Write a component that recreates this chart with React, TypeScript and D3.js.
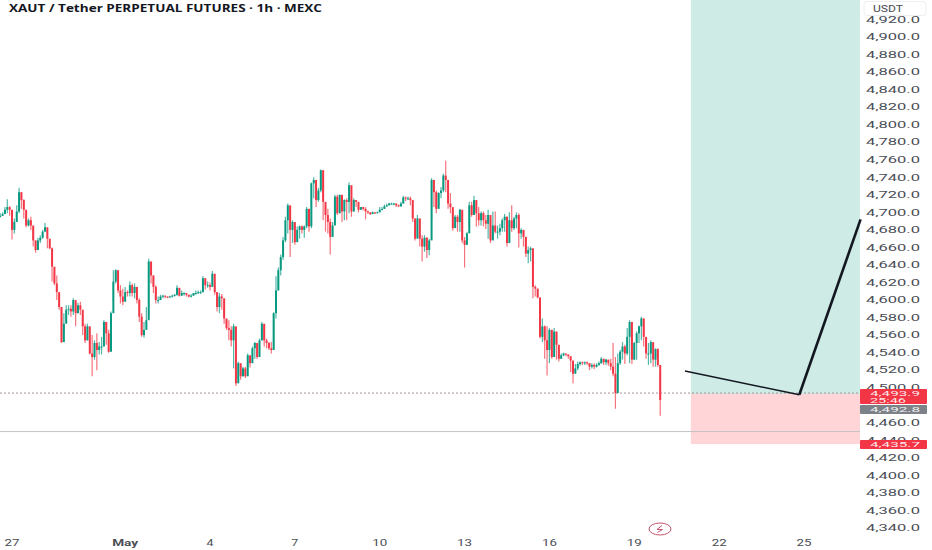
import * as d3 from "d3";

const title = "XAUT / Tether PERPETUAL FUTURES · 1h · MEXC";

// 2h candles (USDT), starting 26 Apr 14:00
const closes = [
  4696, 4698, 4703, 4706, 4703, 4680, 4689, 4701, 4723, 4714,
  4703, 4685, 4691, 4685, 4668, 4657, 4668, 4671, 4678, 4683,
  4670, 4659, 4638, 4619, 4609, 4592, 4552, 4573, 4589, 4590,
  4587, 4600, 4585, 4594, 4589, 4570, 4554, 4570, 4539, 4535,
  4551, 4543, 4547, 4547, 4575, 4562, 4541, 4585, 4621, 4634,
  4611, 4604, 4598, 4609, 4608, 4617, 4608, 4615, 4600, 4581,
  4560, 4566, 4577, 4644, 4628, 4615, 4600, 4600, 4604, 4605,
  4604, 4603, 4604, 4605, 4606, 4614, 4605, 4608, 4608, 4606, 4604,
  4605, 4608, 4608, 4609, 4609, 4625, 4617, 4617, 4615, 4630,
  4609, 4592, 4604, 4602, 4579, 4568,
  4566, 4554, 4570, 4505, 4528, 4513, 4522, 4513, 4537, 4528,
  4545, 4551, 4535, 4554, 4573, 4554, 4551, 4545, 4543, 4585,
  4611, 4634, 4649, 4668, 4691, 4708, 4680, 4689, 4666, 4680,
  4684, 4680, 4684, 4704, 4684, 4733, 4737, 4714, 4725, 4748,
  4712, 4697, 4689, 4672, 4685, 4718, 4699, 4720, 4701, 4714,
  4712, 4731, 4701, 4714, 4712, 4703, 4706, 4704, 4701, 4700,
  4698, 4700, 4699, 4700, 4703, 4704, 4707, 4708, 4710, 4710, 4710,
  4708, 4707, 4710, 4717, 4716, 4716, 4714, 4693, 4670, 4693,
  4670, 4661, 4671, 4657, 4668, 4737, 4723, 4704, 4722, 4725,
  4742, 4737, 4710, 4706, 4682, 4695, 4689, 4703,
  4668, 4663, 4676, 4708, 4697, 4714, 4699, 4691, 4699, 4691,
  4687, 4697, 4668, 4685, 4678, 4678, 4682, 4691, 4695, 4665,
  4691, 4682, 4693, 4697, 4676, 4680, 4672, 4653, 4657, 4659,
  4615, 4613, 4603, 4558, 4570, 4554, 4543, 4566, 4535, 4564,
  4549, 4533, 4537, 4539, 4538, 4536, 4531, 4516, 4522, 4527,
  4529, 4528, 4529, 4528, 4524, 4526, 4524, 4526, 4528,
  4533, 4529, 4532, 4528, 4524, 4516, 4494, 4528, 4541,
  4547, 4539, 4558, 4575, 4532, 4551, 4562, 4570, 4579, 4558,
  4539, 4539, 4552, 4532, 4544, 4526, 4486,
];
const highs = [
  4699, 4700, 4706, 4715, 4707, 4699, 4693, 4708, 4728, 4723,
  4715, 4695, 4693, 4695, 4682, 4668, 4671, 4674, 4680, 4688,
  4680, 4668, 4660, 4632, 4628, 4604, 4592, 4585, 4594, 4594,
  4594, 4602, 4596, 4597, 4598, 4585, 4573, 4573, 4556, 4560,
  4554, 4562, 4552, 4558, 4577, 4575, 4566, 4587, 4634, 4635,
  4634, 4617, 4613, 4615, 4611, 4621, 4619, 4619, 4613, 4602,
  4585, 4575, 4592, 4647, 4634, 4628, 4617, 4604, 4606, 4606,
  4605, 4604, 4605, 4606, 4607, 4617, 4608, 4611, 4609, 4608, 4606,
  4607, 4608, 4611, 4611, 4611, 4627, 4622, 4621, 4620, 4633,
  4621, 4609, 4608, 4607, 4590, 4577,
  4577, 4570, 4573, 4528, 4530, 4524, 4524, 4524, 4539, 4535,
  4547, 4552, 4551, 4556, 4575, 4571, 4556, 4552, 4552, 4586,
  4627, 4637, 4652, 4672, 4695, 4710, 4706, 4691, 4685, 4684,
  4685, 4685, 4685, 4706, 4695, 4734, 4740, 4733, 4728, 4749,
  4748, 4708, 4704, 4693, 4689, 4720, 4720, 4720, 4718, 4715,
  4716, 4734, 4716, 4716, 4714, 4706, 4706, 4706, 4706, 4702,
  4700, 4701, 4700, 4701, 4706, 4706, 4709, 4710, 4711, 4711, 4711,
  4710, 4709, 4712, 4719, 4718, 4718, 4718, 4714, 4693, 4697,
  4693, 4674, 4674, 4672, 4670, 4739, 4729, 4725, 4723, 4729,
  4744, 4759, 4731, 4722, 4704, 4697, 4697, 4704,
  4701, 4672, 4678, 4712, 4712, 4719, 4714, 4706, 4701, 4701,
  4697, 4703, 4693, 4701, 4701, 4685, 4687, 4693, 4698, 4695,
  4700, 4708, 4695, 4700, 4699, 4682, 4680, 4672, 4661, 4661,
  4646, 4617, 4613, 4589, 4579, 4571, 4570, 4568, 4566, 4568,
  4564, 4543, 4539, 4540, 4539, 4537, 4533, 4530, 4527, 4530,
  4530, 4530, 4530, 4530, 4528, 4528, 4528, 4528, 4530,
  4535, 4533, 4533, 4532, 4533, 4551, 4535, 4539, 4543,
  4552, 4549, 4568, 4577, 4560, 4552, 4564, 4571, 4581, 4579,
  4554, 4551, 4554, 4541, 4545, 4545, 4516,
];
const lows = [
  4694, 4696, 4699, 4699, 4696, 4669, 4676, 4689, 4699, 4704,
  4693, 4683, 4684, 4680, 4661, 4654, 4661, 4665, 4670, 4678,
  4659, 4658, 4621, 4617, 4600, 4589, 4551, 4564, 4577, 4583,
  4581, 4583, 4570, 4585, 4583, 4560, 4551, 4554, 4538, 4513,
  4532, 4520, 4538, 4538, 4558, 4549, 4540, 4556, 4598, 4619,
  4608, 4596, 4594, 4604, 4604, 4604, 4604, 4602, 4596, 4575,
  4558, 4557, 4573, 4581, 4619, 4608, 4596, 4596, 4600, 4602,
  4602, 4602, 4603, 4603, 4604, 4605, 4604, 4605, 4605, 4604, 4603,
  4603, 4605, 4606, 4607, 4607, 4609, 4612, 4614, 4611, 4619,
  4606, 4587, 4585, 4589, 4573, 4566,
  4554, 4547, 4522, 4502, 4509, 4509, 4513, 4511, 4524, 4523,
  4528, 4533, 4533, 4543, 4554, 4547, 4545, 4543, 4539, 4543,
  4579, 4611, 4628, 4646, 4666, 4676, 4649, 4665, 4663, 4668,
  4670, 4676, 4671, 4682, 4678, 4682, 4716, 4706, 4712, 4723,
  4691, 4678, 4676, 4652, 4672, 4697, 4697, 4699, 4689, 4691,
  4691, 4699, 4695, 4701, 4706, 4700, 4703, 4702, 4692, 4698,
  4697, 4698, 4698, 4699, 4700, 4702, 4704, 4706, 4708, 4709, 4708,
  4706, 4706, 4706, 4710, 4713, 4714, 4708, 4689, 4668, 4672,
  4661, 4644, 4655, 4648, 4651, 4691, 4706, 4699, 4708, 4716,
  4723, 4723, 4704, 4699, 4679, 4684, 4678, 4678,
  4665, 4637, 4663, 4684, 4695, 4706, 4684, 4685, 4685, 4684,
  4681, 4670, 4665, 4670, 4676, 4670, 4674, 4678, 4678, 4661,
  4681, 4678, 4680, 4682, 4660, 4670, 4661, 4649, 4642, 4644,
  4602, 4604, 4602, 4556, 4552, 4533, 4514, 4528, 4533, 4547,
  4532, 4530, 4533, 4536, 4536, 4533, 4518, 4505, 4516, 4520,
  4525, 4526, 4526, 4526, 4520, 4522, 4521, 4523, 4525,
  4527, 4526, 4526, 4525, 4520, 4513, 4476, 4518, 4526,
  4532, 4527, 4537, 4528, 4527, 4532, 4532, 4551, 4554, 4547,
  4533, 4526, 4528, 4524, 4524, 4524, 4468,
];

// 4,480.0 sits fully behind the price tags in the picture, so it is left out
const priceTicks = d3.range(4340, 4921, 20).filter((p) => p !== 4480);
const dayTicks = [
  { date: new Date(Date.UTC(2026, 3, 27)), label: "27" },
  { date: new Date(Date.UTC(2026, 4, 1)), label: "May" },
  { date: new Date(Date.UTC(2026, 4, 4)), label: "4" },
  { date: new Date(Date.UTC(2026, 4, 7)), label: "7" },
  { date: new Date(Date.UTC(2026, 4, 10)), label: "10" },
  { date: new Date(Date.UTC(2026, 4, 13)), label: "13" },
  { date: new Date(Date.UTC(2026, 4, 16)), label: "16" },
  { date: new Date(Date.UTC(2026, 4, 19)), label: "19" },
  { date: new Date(Date.UTC(2026, 4, 22)), label: "22" },
  { date: new Date(Date.UTC(2026, 4, 25)), label: "25" },
];

// long position drawing
const positionStart = new Date(Date.UTC(2026, 4, 21));
const entryPrice = 4492.8;
const stopPrice = 4435.7;
const targetPrice = 4960;
const supportPrice = 4450;
const lastPrice = 4493.9;
const projection: [Date, number][] = [
  [new Date(Date.UTC(2026, 4, 20, 19)), 4519],
  [new Date(Date.UTC(2026, 4, 24, 20)), 4492],
  [new Date(Date.UTC(2026, 4, 27)), 4692],
];

const width = 932;
const height = 550;
const axisX = 860;

const x = d3
  .scaleUtc()
  .domain([dayTicks[0].date, dayTicks[9].date])
  .range([12, 804]);
const y = d3.scaleLinear().domain([4900, 4340]).range([37, 528]);

const firstCandle = Date.UTC(2026, 3, 26, 14);
const candleX = (i: number) => x(new Date(firstCandle + i * 2 * 3600 * 1000));

const GREEN = "#089981";
const RED = "#f23645";
const fmt = d3.format(",.1f");
const axisFont = "Roboto, sans-serif";

const PriceTag = ({ top, h, fill, lines }: { top: number; h: number; fill: string; lines: string[] }) => (
  <g>
    <rect x={860} y={top} width={67} height={h} fill={fill} rx={1} />
    {lines.map((t, i) => (
      <text
        key={t}
        x={870}
        y={top + 7 + i * 7}
        fill="#fff"
        fillOpacity={0.9}
        fontSize={7.5}
        fontFamily={axisFont}
        textLength={t.length > 5 ? 50 : 36}
        lengthAdjust="spacingAndGlyphs"
      >
        {t}
      </text>
    ))}
  </g>
);

export default function App() {
  const lineGen = d3
    .line<[Date, number]>()
    .x((d) => x(d[0]))
    .y((d) => y(d[1]));

  return (
    <svg
      width={width}
      height={height}
      style={{ position: "absolute", left: 0, top: 0, display: "block", background: "#fff" }}
    >
      {/* position zones */}
      <rect
        x={x(positionStart)}
        y={y(targetPrice)}
        width={axisX - x(positionStart)}
        height={y(entryPrice) - y(targetPrice)}
        fill="#cfebe5"
      />
      <rect
        x={x(positionStart)}
        y={y(entryPrice)}
        width={axisX - x(positionStart)}
        height={y(stopPrice) - y(entryPrice)}
        fill="#ffd5d8"
      />

      <line x1={0} x2={axisX} y1={y(supportPrice)} y2={y(supportPrice)} stroke="#c4c4c4" strokeWidth={1} />
      <line
        x1={0}
        x2={axisX}
        y1={y(lastPrice)}
        y2={y(lastPrice)}
        stroke="#a88f92"
        strokeWidth={1}
        strokeDasharray="2 2"
      />

      {/* candles */}
      {closes.map((c, i) => {
        const open = i === 0 ? c : closes[i - 1];
        const color = c >= open ? GREEN : RED;
        const cx = candleX(i);
        return (
          <g key={i}>
            <line x1={cx} x2={cx} y1={y(highs[i])} y2={y(lows[i])} stroke={color} strokeWidth={1.2} strokeOpacity={0.7} />
            <rect
              x={cx - 1}
              width={2}
              y={y(Math.max(open, c))}
              height={Math.max(1, Math.abs(y(open) - y(c)))}
              fill={color}
            />
          </g>
        );
      })}

      <path d={lineGen(projection.slice(0, 2)) ?? ""} fill="none" stroke="#131722" strokeWidth={1.4} />
      <path d={lineGen(projection.slice(1)) ?? ""} fill="none" stroke="#131722" strokeWidth={2.6} />

      {/* price axis */}
      {priceTicks.map((p) => (
        <text
          key={p}
          x={866}
          y={y(p)}
          dy="0.36em"
          fontSize={9}
          fill="#4a4d55"
          fontFamily={axisFont}
          textLength={54}
          lengthAdjust="spacingAndGlyphs"
        >
          {fmt(p)}
        </text>
      ))}

      <rect x={864} y={1.5} width={62} height={14} rx={3} fill="#fff" stroke="#eceef2" />
      <text x={873} y={12} fontSize={9} fill="#4a4d55" fontFamily={axisFont} textLength={30} lengthAdjust="spacingAndGlyphs">
        USDT
      </text>

      <PriceTag top={389} h={15} fill={RED} lines={["4,493.9", "25:46"]} />
      <PriceTag top={405} h={9} fill="#7d8188" lines={["4,492.8"]} />
      <PriceTag top={440} h={9} fill={RED} lines={["4,435.7"]} />

      {/* time axis */}
      {dayTicks.map((d) => (
        <text
          key={d.label}
          x={x(d.date)}
          y={546}
          textAnchor="middle"
          fontSize={9}
          fill="#4a4d55"
          fontWeight={d.label === "May" ? 700 : 400}
          fontFamily={axisFont}
          textLength={d.label.length === 1 ? 7 : d.label === "May" ? 26 : 15}
          lengthAdjust="spacingAndGlyphs"
        >
          {d.label}
        </text>
      ))}

      {/* lightning badge */}
      <ellipse cx={660} cy={529} rx={11} ry={6} fill="#fff" stroke="#c9566f" strokeWidth={1} />
      <path d="M662 525.5 L657 529.5 H662.5 L657.5 532.5" fill="none" stroke="#c9566f" strokeWidth={1} />

      <text
        x={9}
        y={12}
        fontSize={10}
        fontWeight={700}
        fill="#131722"
        fontFamily="'Open Sans', sans-serif"
        textLength={313}
        lengthAdjust="spacingAndGlyphs"
      >
        {title}
      </text>
    </svg>
  );
}
